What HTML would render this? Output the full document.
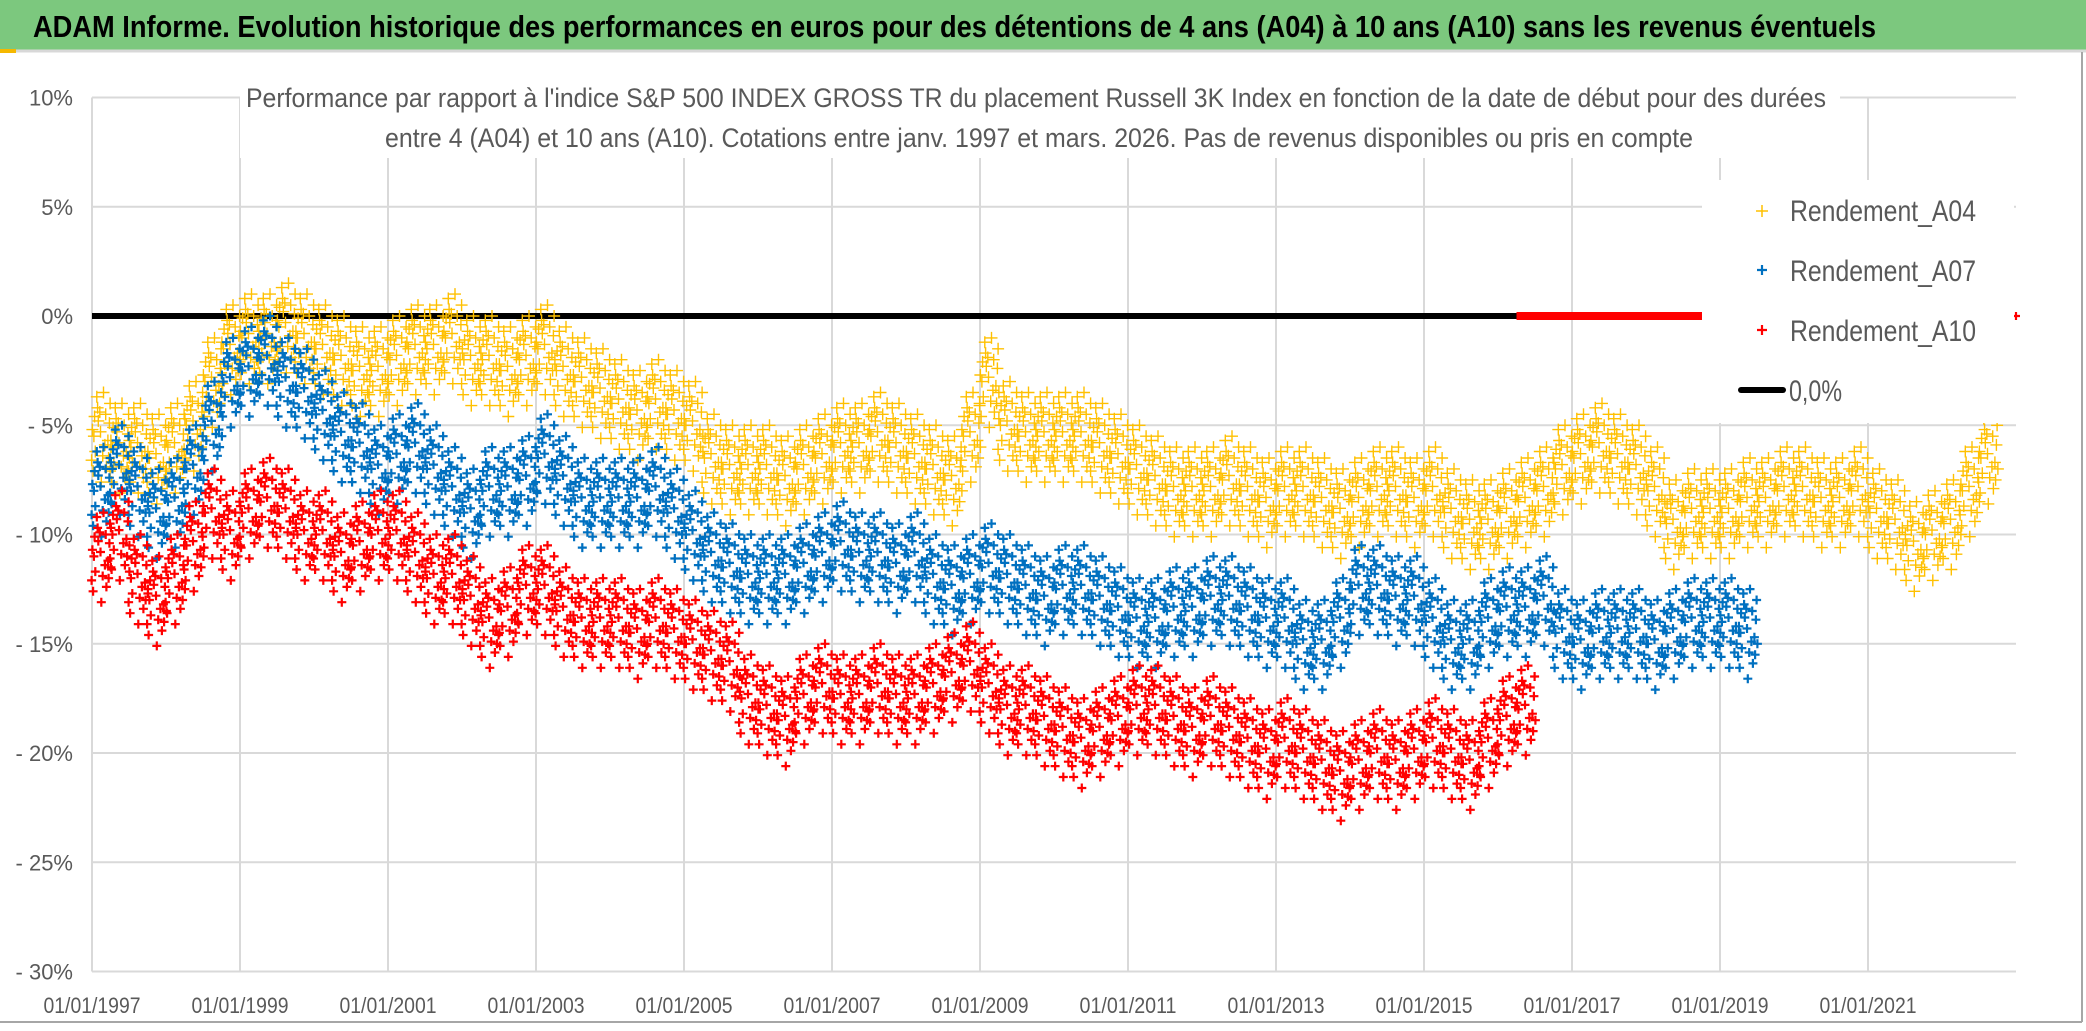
<!DOCTYPE html>
<html><head><meta charset="utf-8"><style>
html,body{margin:0;padding:0;background:#fff;width:2086px;height:1031px;overflow:hidden}
svg{display:block}
text{font-family:"Liberation Sans Narrow","Liberation Sans",sans-serif}
</style></head><body>
<svg id="chart" width="2086" height="1031" viewBox="0 0 2086 1031">
  <rect x="0" y="0" width="2086" height="1031" fill="#fff"/>
  <rect x="0" y="0" width="2086" height="50" fill="#7cc87e"/>
  <line x1="0" y1="51" x2="2086" y2="51" stroke="#d8d8d8" stroke-width="3"/>
  <rect x="0" y="49" width="16" height="4" fill="#f5b800"/>
  <text x="33" y="37" font-size="31" font-weight="bold" fill="#000" textLength="1843" lengthAdjust="spacingAndGlyphs">ADAM Informe. Evolution historique des performances en euros pour des détentions de 4 ans (A04) à 10 ans (A10) sans les revenus éventuels</text>
  <line x1="2082" y1="52" x2="2082" y2="1022" stroke="#a6a6a6" stroke-width="2"/>
  <line x1="0" y1="1022" x2="2082" y2="1022" stroke="#a6a6a6" stroke-width="2"/>
  <g id="grid"></g>
  <g id="series"></g>
  <rect x="240" y="62" width="1600" height="96" fill="#fff"/>
  <text x="246" y="107" font-size="27" fill="#595959" textLength="1580" lengthAdjust="spacingAndGlyphs">Performance par rapport à l'indice S&amp;P 500 INDEX GROSS TR  du placement Russell 3K Index en fonction de la date de début pour des durées</text>
  <text x="385" y="147" font-size="27" fill="#595959" textLength="1308" lengthAdjust="spacingAndGlyphs">entre 4 (A04) et 10 ans (A10). Cotations entre janv. 1997 et mars. 2026. Pas de revenus disponibles ou pris en compte</text>
  <g id="axes"></g>
  <g id="legend">
    <rect x="1702" y="180" width="312" height="243" fill="#fff"/>
    <g>
      <path d="M1756 211h12M1762 205v12" stroke="#ffc000" stroke-width="1.5"/>
      <text x="1790" y="221" font-size="30" fill="#595959" textLength="186" lengthAdjust="spacingAndGlyphs">Rendement_A04</text>
    </g>
    <g>
      <path d="M1757 270h10M1762 265v10" stroke="#0070c0" stroke-width="2.2"/>
      <text x="1790" y="281" font-size="30" fill="#595959" textLength="186" lengthAdjust="spacingAndGlyphs">Rendement_A07</text>
    </g>
    <g>
      <path d="M1757 330h10M1762 325v10" stroke="#ff0000" stroke-width="2.2"/>
      <text x="1790" y="341" font-size="30" fill="#595959" textLength="186" lengthAdjust="spacingAndGlyphs">Rendement_A10</text>
    </g>
    <g>
      <line x1="1741" y1="390" x2="1783" y2="390" stroke="#000" stroke-width="6" stroke-linecap="round"/>
      <text x="1789" y="401" font-size="30" fill="#595959" textLength="53" lengthAdjust="spacingAndGlyphs">0,0%</text>
    </g>
  </g>
</svg>
<script>
// ---- data (quarterly readings, start year + quarter index) ----
const a04Start = 1997.0;
const a04 = [-5.5,-6,-6,-6.5, -6,-5,-3,-1.5, -1,-1,-0.5,-1, -1.5,-2,-2.5,-2.5, -2,-1.5,-1.5,-1, -2,-2,-2.5,-2,
 -1.5,-2.5,-3,-3.5, -4,-4.5,-4,-4.5, -5,-6.5,-7,-7, -7,-7.5,-7,-6.5, -6,-6,-5.5,-6, -6.5,-7,-7.5,-5.5,
 -3,-5,-5.5,-5.5, -5.5,-5.5,-6,-6.5, -7,-7.5,-8,-8, -8,-7.5,-8,-8.5, -8,-8,-8.5,-9, -8.5,-8,-8,-8.5,
 -8,-9,-9.5,-9.5, -9,-8.5,-8,-7, -6.5,-6,-6.5,-7, -8,-9.5,-9,-9, -9,-8.5,-8.5,-8, -8,-8.5,-8.5,-8,
 -9,-9.5,-10.5,-10, -9.5,-8,-6.5];
const a07Start = 1997.0;
const a07 = [-8,-7,-8,-9, -8.5,-7,-5,-3, -2.5,-2,-3,-3.5, -4.5,-5.5,-6,-7, -6.5,-6,-7,-8, -9,-8,-8,-7.5,
 -6.5,-7.5,-8.5,-8.5, -8.5,-8.5,-8,-9, -10,-11,-11.5,-12, -12,-12,-11.5,-11, -10.5,-11,-11,-11.5,
 -11,-12,-12.5,-12, -11.5,-12,-12.5,-13, -12.5,-12.5,-13,-13.5, -14,-14,-13.5,-13.5, -13,-13,-13.5,-14,
 -14,-15,-15,-14, -12.5,-12.5,-13,-13, -14,-15,-15,-14, -13.5,-13.5,-13,-14.5, -15,-14.5,-14.5,-14.5,
 -15,-14.5,-14,-14, -14,-14.5];
const a10Start = 1997.0;
const a10 = [-11,-10,-12,-13, -12,-10.5,-9,-10, -9,-8.5,-9,-10, -10,-11,-10.5,-10, -10,-11,-12,-12,
 -13,-14,-13.5,-12.5, -12.5,-13.5,-14,-14, -14,-14.5,-14,-14.5, -15,-15.5,-16,-17.5, -18,-18.5,-17.5,-17,
 -17.5,-17.5,-17,-17.5, -17.5,-17,-16.5,-16, -17,-18,-18,-18.5, -19,-19.5,-19,-18.5, -18,-18,-18.5,-19,
 -18.5,-19,-19.5,-20, -19.5,-20,-20.5,-21, -20.5,-20,-20.5,-20, -19.5,-20,-20.5,-19.5, -18.5,-18];
const a10ZeroRange = [2016.25, 2018.8];
const a10ZeroLast = [2023.0];
const zeroLineRange = [1997.0, 2016.25];
const yTicks = [10,5,0,-5,-10,-15,-20,-25,-30];
const yTickLabels = ["10%","5%","0%","- 5%","- 10%","- 15%","- 20%","- 25%","- 30%"];
const xTicks = [1997,1999,2001,2003,2005,2007,2009,2011,2013,2015,2017,2019,2021];
const xTickLabels = ["01/01/1997","01/01/1999","01/01/2001","01/01/2003","01/01/2005","01/01/2007","01/01/2009","01/01/2011","01/01/2013","01/01/2015","01/01/2017","01/01/2019","01/01/2021"];

// ---- scales ----
const X0=92, X1=2016, T0=1997, T1=2023, Y0=97.5, Y1=971.5, V0=10, V1=-30;
const xs = t => X0 + (t-T0)/(T1-T0)*(X1-X0);
const ys = v => Y0 + (V0-v)/(V0-V1)*(Y1-Y0);
const NS="http://www.w3.org/2000/svg";
function mk(tag, attrs, parent){const e=document.createElementNS(NS,tag);for(const k in attrs)e.setAttribute(k,attrs[k]);parent.appendChild(e);return e;}

const grid=document.getElementById('grid'), axes=document.getElementById('axes'), series=document.getElementById('series');
yTicks.forEach((v,i)=>{
  const l=mk('line',{x1:X0,x2:X1,y1:ys(v),y2:ys(v),stroke:'#d9d9d9','stroke-width':2},grid);
  
  
  const t=mk('text',{x:73,y:ys(v)+8,'font-size':22,fill:'#595959','text-anchor':'end'},axes);
  t.textContent=yTickLabels[i];
  
  
});
xTicks.forEach((yr,i)=>{
  if(i>0){
    const l=mk('line',{x1:xs(yr),x2:xs(yr),y1:Y0,y2:Y1,stroke:'#d9d9d9','stroke-width':2},grid);
    
    
  }
  const t=mk('text',{x:xs(yr),y:1013,'font-size':22,fill:'#595959','text-anchor':'middle',textLength:97,lengthAdjust:'spacingAndGlyphs'},axes);
  t.textContent=xTickLabels[i];
  
  
});
const ax=mk('line',{x1:X0,x2:X0,y1:Y0,y2:Y1,stroke:'#d9d9d9','stroke-width':2},grid);



// marker cluster pattern (visual density styling, in year-fraction and % units)
const pdt=[-0.12,0.07,-0.02,0.11,-0.08,0.03,-0.13,0.09,-0.04,0.0,0.12,-0.1,0.05,-0.06,0.1,-0.01,0.06,-0.11,0.02,-0.05,0.13,-0.09];
const pdv=[0.3,-1.4,1.1,0.6,-0.7,2.0,-1.1,-0.2,0.7,-2.1,1.5,0.0,-0.4,1.8,-1.0,0.2,1.0,-1.6,-0.9,1.3,-0.5,0.9];
function drawSeries(vals,start,color,size,sw,name){
  const g=mk('g',{},series);
  
  
  let d='';
  vals.forEach((v,i)=>{
    const t=start+i*0.25+0.125;
    for(let k=0;k<pdt.length;k++){
      const x=xs(t+pdt[k]), y=ys(v+pdv[k]);
      d+=`M${(x-size).toFixed(1)} ${y.toFixed(1)}h${2*size}M${x.toFixed(1)} ${(y-size).toFixed(1)}v${2*size}`;
    }
  });
  const p=mk('path',{d:d,stroke:color,'stroke-width':sw,fill:'none'},g);
  
  
}
const zl=mk('line',{x1:xs(zeroLineRange[0]),x2:xs(zeroLineRange[1]),y1:ys(0),y2:ys(0),stroke:'#000','stroke-width':6},series);


drawSeries(a04,a04Start,'#ffc000',6,1.4,'series-a04');
drawSeries(a07,a07Start,'#0070c0',4.5,2.2,'series-a07');
drawSeries(a10,a10Start,'#ff0000',4.5,2.2,'series-a10');
const rz=mk('line',{x1:xs(a10ZeroRange[0]),x2:xs(a10ZeroRange[1]),y1:ys(0),y2:ys(0),stroke:'#ff0000','stroke-width':8},series);


a10ZeroLast.forEach(t=>{
  const m=mk('path',{d:`M${xs(t)-4} ${ys(0)}h8M${xs(t)} ${ys(0)-4}v8`,stroke:'#ff0000','stroke-width':2.2},series);
  
  
});
</script>
</body></html>
